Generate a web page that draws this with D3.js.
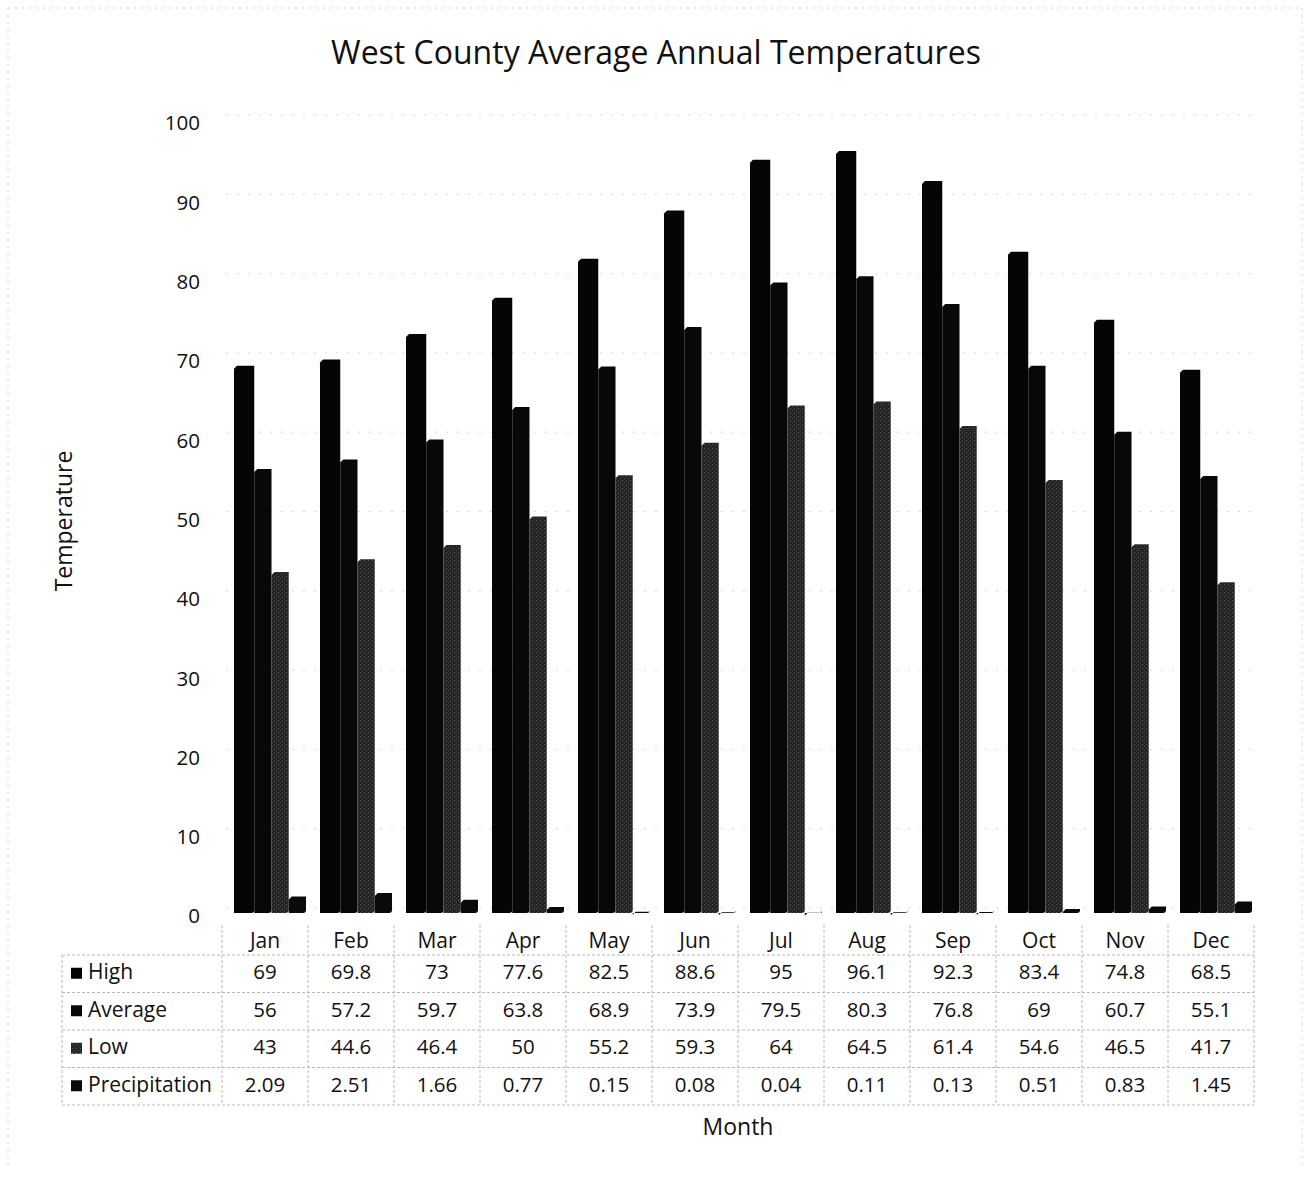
<!DOCTYPE html>
<html>
<head>
<meta charset="utf-8">
<script src="https://cdn.jsdelivr.net/npm/d3@7"></script>
<style>
  html, body { margin: 0; padding: 0; background: #fff; }
  svg text { font-family: "Open Sans", Lato, "Noto Sans", sans-serif; fill: #111; }
</style>
</head>
<body>
<svg id="chart" width="1306" height="1177"></svg>
<script>
// Monthly climate figures for West County
const months = ["Jan", "Feb", "Mar", "Apr", "May", "Jun", "Jul", "Aug", "Sep", "Oct", "Nov", "Dec"];
const seriesNames = ["High", "Average", "Low", "Precipitation"];
const high = [69, 69.8, 73, 77.6, 82.5, 88.6, 95, 96.1, 92.3, 83.4, 74.8, 68.5];
const average = [56, 57.2, 59.7, 63.8, 68.9, 73.9, 79.5, 80.3, 76.8, 69, 60.7, 55.1];
const low = [43, 44.6, 46.4, 50, 55.2, 59.3, 64, 64.5, 61.4, 54.6, 46.5, 41.7];
const precipitation = [2.09, 2.51, 1.66, 0.77, 0.15, 0.08, 0.04, 0.11, 0.13, 0.51, 0.83, 1.45];
const yTicks = [0, 10, 20, 30, 40, 50, 60, 70, 80, 90, 100];

const seriesValues = [high, average, low, precipitation];
const seriesFill = { High: "#050505", Average: "#080808", Low: "#2a2a2a", Precipitation: "#0a0a0a" };

const svg = d3.select("#chart");

// Speckle pattern giving the low-temperature bars their grainy dark-grey texture
const defs = svg.append("defs");
const pat = defs.append("pattern")
  .attr("id", "lowTexture").attr("patternUnits", "userSpaceOnUse")
  .attr("width", 4).attr("height", 4);
pat.append("rect").attr("width", 4).attr("height", 4).attr("fill", "#242424");
pat.append("rect").attr("x", 0).attr("y", 0).attr("width", 1).attr("height", 1).attr("fill", "#5a5a5a");
pat.append("rect").attr("x", 2).attr("y", 2).attr("width", 1).attr("height", 1).attr("fill", "#4a4a4a");
seriesFill.Low = "url(#lowTexture)";

// Scales
const tableLeft = 222, tableRight = 1254;
const x0 = d3.scaleBand().domain(months).range([tableLeft, tableRight]).padding(0);
const step = x0.step();
const x1 = d3.scaleBand().domain(seriesNames).range([15, step - 2]).padding(0);
const y = d3.scaleLinear().domain([0, 100]).range([913, 120]);

// Faint frame of the chart area
const frame = svg.append("g").attr("stroke", "#d0d0d0").attr("stroke-dasharray", "2,5").attr("fill", "none");
frame.append("line").attr("x1", 8).attr("x2", 8).attr("y1", 8).attr("y2", 1170);
frame.append("line").attr("x1", 1302).attr("x2", 1302).attr("y1", 8).attr("y2", 1170);
frame.append("line").attr("x1", 8).attr("x2", 1302).attr("y1", 8).attr("y2", 8);

// Gridlines on the back wall
svg.append("g")
  .selectAll("line").data(yTicks).join("line")
  .attr("x1", tableLeft + 4).attr("x2", tableRight + 6)
  .attr("y1", d => y(d) - 5).attr("y2", d => y(d) - 5)
  .attr("stroke", "#d8d8d8").attr("stroke-width", 1).attr("stroke-dasharray", "2,9");

// Y axis tick labels
svg.append("g")
  .selectAll("text").data(yTicks).join("text")
  .attr("x", 200).attr("y", d => y(d) + 5)
  .attr("text-anchor", "end").attr("dominant-baseline", "middle")
  .attr("font-size", 20.5)
  .text(d => d);

// Bars
const groups = svg.append("g").selectAll("g").data(months).join("g")
  .attr("transform", m => `translate(${x0(m)},0)`);

groups.selectAll("path").data((m, i) => seriesNames.map((s, k) => ({ s, v: seriesValues[k][i] })))
  .join("path")
  .attr("d", d => {
    const x = x1(d.s), w = x1.bandwidth() + (d.s === "High" ? 3 : 0);
    const xl = d.s === "High" ? x - 3 : x;
    const top = y(d.v), bot = y(0), r = 3;
    return `M${xl},${bot}V${top + r}L${xl + r},${top}H${xl + w}V${bot - r}Q${xl + w},${bot} ${xl + w - r},${bot}Z`;
  })
  .attr("fill", d => seriesFill[d.s]);

// Data table
const rowTop = 925, headH = 30, rowH = 37.5;
const tbl = svg.append("g");
const lineStyle = sel => sel.attr("stroke", "#b8b8b8").attr("stroke-width", 1).attr("stroke-dasharray", "3,2");
const tableBottom = rowTop + headH + 4 * rowH;

// Horizontal rules
tbl.append("g").selectAll("line").data(d3.range(0, 5)).join("line")
  .attr("x1", 62).attr("x2", tableRight)
  .attr("y1", i => rowTop + headH + i * rowH).attr("y2", i => rowTop + headH + i * rowH)
  .call(lineStyle);
// Vertical rules
tbl.append("g").selectAll("line").data(d3.range(0, months.length + 1)).join("line")
  .attr("x1", i => tableLeft + i * step).attr("x2", i => tableLeft + i * step)
  .attr("y1", rowTop).attr("y2", tableBottom)
  .call(lineStyle);
tbl.append("line").attr("x1", 62).attr("x2", 62)
  .attr("y1", rowTop + headH).attr("y2", tableBottom).call(lineStyle);

// Month header
tbl.append("g").selectAll("text").data(months).join("text")
  .attr("x", m => x0(m) + step / 2).attr("y", rowTop + 17)
  .attr("text-anchor", "middle").attr("dominant-baseline", "middle")
  .attr("font-size", 21).text(m => m);

// Series rows
seriesNames.forEach((s, k) => {
  const cy = rowTop + headH + k * rowH + rowH / 2;
  tbl.append("rect").attr("x", 71).attr("y", cy - 6).attr("width", 11).attr("height", 11)
    .attr("fill", seriesFill[s]);
  tbl.append("text").attr("x", 88).attr("y", cy).attr("dominant-baseline", "middle")
    .attr("font-size", 21).text(s);
  tbl.append("g").selectAll("text").data(seriesValues[k]).join("text")
    .attr("x", (v, i) => x0(months[i]) + step / 2).attr("y", cy)
    .attr("text-anchor", "middle").attr("dominant-baseline", "middle")
    .attr("font-size", 20.5).text(v => v);
});

// Titles
svg.append("text").attr("x", 656).attr("y", 55)
  .attr("text-anchor", "middle").attr("dominant-baseline", "middle")
  .attr("font-size", 32).text("West County Average Annual Temperatures");
svg.append("text").attr("transform", "translate(66,521) rotate(-90)")
  .attr("text-anchor", "middle").attr("dominant-baseline", "middle")
  .attr("font-size", 23).text("Temperature");
svg.append("text").attr("x", 738).attr("y", tableBottom + 24)
  .attr("text-anchor", "middle").attr("dominant-baseline", "middle")
  .attr("font-size", 23).text("Month");
</script>
</body>
</html>
